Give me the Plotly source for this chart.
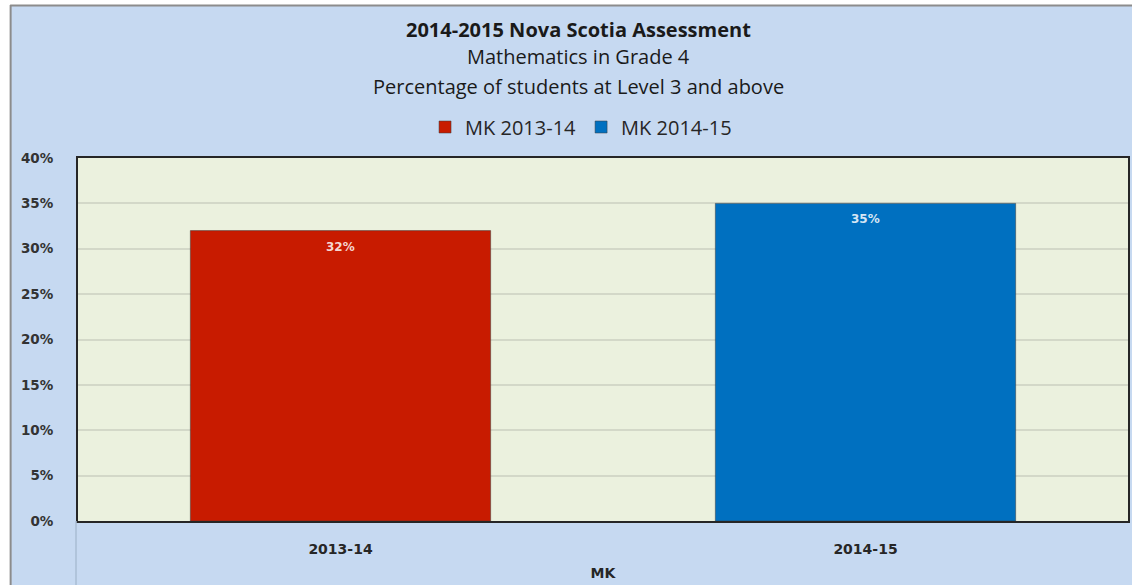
import plotly.graph_objects as go

# Chart data
categories = ["2013-14", "2014-15"]
series_names = ["MK 2013-14", "MK 2014-15"]
values = [32, 35]
bar_colors = ["#C81B00", "#0070C0"]
label_colors = ["#F4D6D0", "#D6E6F4"]
y_ticks = [0, 5, 10, 15, 20, 25, 30, 35, 40]

title_lines = [
    "2014-2015 Nova Scotia Assessment",
    "Mathematics in Grade 4",
    "Percentage of students at Level 3 and above",
]

W, H = 1132, 585
L, R, T, B = 78, 2, 158, 64

fig = go.Figure()
for cat, name, val, col in zip(categories, series_names, values, bar_colors):
    fig.add_trace(go.Bar(
        x=[cat], y=[val], name=name,
        marker=dict(color=col, line=dict(color="rgba(60,60,60,0.5)", width=1)),
        width=0.572,
    ))

# px -> paper coordinates helpers
pw, ph = W - L - R, H - T - B
def px_x(x):
    return (x - L) / pw
def px_y(y):
    return (H - B - y) / ph

shapes = [
    # white margin strips outside the chart frame
    dict(type="rect", xref="paper", yref="paper", x0=px_x(-5), x1=px_x(10), y0=px_y(H + 5), y1=px_y(-5),
         fillcolor="white", line=dict(width=0), layer="above"),
    dict(type="rect", xref="paper", yref="paper", x0=px_x(-5), x1=px_x(W + 5), y0=px_y(5), y1=px_y(-5),
         fillcolor="white", line=dict(width=0), layer="above"),
    # chart frame (top and left edges)
    dict(type="line", xref="paper", yref="paper", x0=px_x(10), x1=px_x(W + 5), y0=px_y(5.5), y1=px_y(5.5),
         line=dict(color="#8C8C8C", width=2)),
    dict(type="line", xref="paper", yref="paper", x0=px_x(10.5), x1=px_x(10.5), y0=px_y(5), y1=px_y(H + 5),
         line=dict(color="#8C8C8C", width=2)),
    # category group divider below the plot
    dict(type="line", xref="paper", yref="paper", x0=px_x(76), x1=px_x(76), y0=0, y1=px_y(H + 5),
         line=dict(color="#A9BCD3", width=1.5)),
]

annotations = []
title_y = [29, 57, 87]
title_sizes = [20, 20, 20]
for i, (line, yy, sz) in enumerate(zip(title_lines, title_y, title_sizes)):
    annotations.append(dict(
        text=line, xref="paper", yref="paper", x=px_x(579), y=px_y(yy),
        xanchor="center", yanchor="middle", showarrow=False, borderpad=0,
        font=dict(family="Open Sans", size=sz, color="#1A1A1A", weight="bold" if i == 0 else "normal"),
    ))

# value labels just inside the top of each bar
for cat, val, lcol in zip(categories, values, label_colors):
    annotations.append(dict(
        text=f"{val}%", x=cat, y=val, xref="x", yref="y",
        xanchor="center", yanchor="middle", yshift=-16, showarrow=False,
        font=dict(family="DejaVu Sans", size=12, color=lcol, weight="bold"),
    ))

fig.update_layout(
    width=W, height=H,
    margin=dict(l=L, r=R, t=T, b=B, pad=0),
    paper_bgcolor="#C6D9F1",
    plot_bgcolor="#EBF1DE",
    barmode="overlay",
    showlegend=True,
    legend=dict(
        orientation="h", xanchor="center", yanchor="middle",
        x=px_x(582), y=px_y(127),
        font=dict(family="Open Sans", size=20, color="#262626"),
        bgcolor="rgba(0,0,0,0)", itemwidth=30, tracegroupgap=0,
    ),
    shapes=shapes,
    annotations=annotations,
    font=dict(family="DejaVu Sans", color="#333333"),
)

fig.update_yaxes(
    range=[0, 40], tickvals=y_ticks, ticktext=[f"{v}%" for v in y_ticks],
    showgrid=True, gridcolor="#D3D8C8", gridwidth=2,
    showline=True, linecolor="#262626", linewidth=2, mirror=True,
    zeroline=False, ticks="", ticklabelstandoff=20,
    tickfont=dict(family="DejaVu Sans", size=13.5, color="#333333", weight="bold"),
)
fig.update_xaxes(
    showline=True, linecolor="#262626", linewidth=2, mirror=True,
    ticks="", ticklabelstandoff=14,
    tickfont=dict(family="DejaVu Sans", size=14, color="#262626", weight="bold"),
    title=dict(text="MK", standoff=12,
               font=dict(family="DejaVu Sans", size=14, color="#262626", weight="bold")),
)

fig.write_html("out.html")
